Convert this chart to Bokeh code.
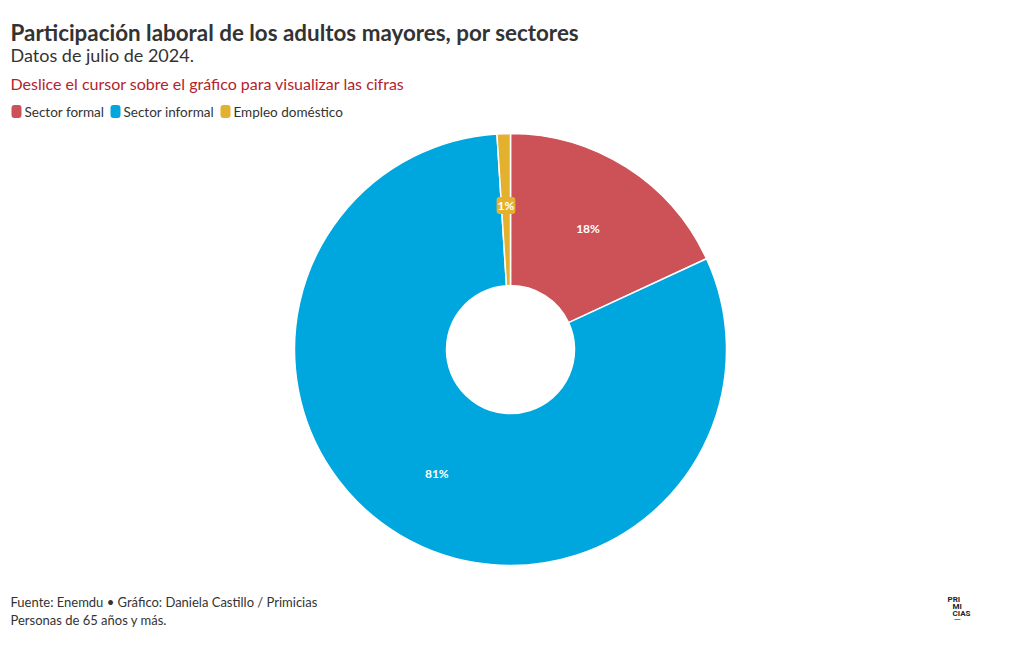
import numpy as np
from bokeh.plotting import figure
from bokeh.models import Range1d, ColumnDataSource
from bokeh.core.properties import value
from bokeh.embed import file_html
from bokeh.resources import INLINE

# ---- data ----
sectors = ["Sector formal", "Sector informal", "Empleo doméstico"]
shares = [18.1, 80.9, 1.0]
colors = ["#cd5257", "#00a6de", "#e4b12f"]

title = "Participación laboral de los adultos mayores, por sectores"
subtitle = "Datos de julio de 2024."
hint = "Deslice el cursor sobre el gráfico para visualizar las cifras"
source_note = "Fuente: Enemdu • Gráfico: Daniela Castillo / Primicias"
note2 = "Personas de 65 años y más."

W, H = 1004, 634
FONT = "Lato"

def X(rx):
    return rx

def Y(ry):
    return H - ry

p = figure(width=W, height=H, output_backend="svg", toolbar_location=None,
           x_range=Range1d(0, W), y_range=Range1d(0, H),
           x_axis_type=None, y_axis_type=None, min_border=0)
p.grid.visible = False
p.outline_line_color = None
p.background_fill_color = "white"
p.border_fill_color = "white"

# ---- donut ----
vals = np.array(shares, dtype=float)
frac = vals / vals.sum()
cum = np.concatenate([[0], np.cumsum(frac)])
start = np.pi / 2 - cum[:-1] * 2 * np.pi
end = np.pi / 2 - cum[1:] * 2 * np.pi
mid = (start + end) / 2
cx, cy = X(510), Y(349)
r_out, r_in, r_lab = 216, 64, 144
src = ColumnDataSource(dict(start=start, end=end, color=colors, name=sectors,
                            lx=cx + r_lab * np.cos(mid), ly=cy + r_lab * np.sin(mid),
                            lab=[f"{round(v)}%" for v in shares]))
p.annular_wedge(x=cx, y=cy, inner_radius=r_in, outer_radius=r_out,
                start_angle="start", end_angle="end", direction="clock",
                fill_color="color", line_color="white", line_width=1.5, source=src)
p.text(x="lx", y="ly", text="lab", source=src, text_align="center", text_baseline="middle",
       text_color="white", text_font=value(FONT), text_font_style="bold", text_font_size="12px",
       background_fill_color="color", padding=1, border_radius=3)

# ---- titles ----
p.text(x=[X(10)], y=[Y(32)], text=[title], text_font=value(FONT), text_font_style="bold",
       text_font_size="22.4px", text_color="#333333", text_baseline="alphabetic")
p.text(x=[X(10)], y=[Y(54)], text=[subtitle], text_font=value(FONT),
       text_font_size="18px", text_color="#333333", text_baseline="alphabetic")
p.text(x=[X(10)], y=[Y(83)], text=[hint], text_font=value(FONT),
       text_font_size="16px", text_color="#b3232c", text_baseline="alphabetic")

# ---- legend ----
leg_x = [11, 110, 220]
for lx, name, col in zip(leg_x, sectors, colors):
    p.rect(x=[X(lx + 5)], y=[Y(111)], width=10, height=13, fill_color=col, line_color=None,
           border_radius=3)
    p.text(x=[X(lx + 13)], y=[Y(111)], text=[name], text_font=value(FONT),
           text_font_size="13.5px", text_color="#333333", text_baseline="middle")

# ---- footer ----
p.text(x=[X(10)], y=[Y(601)], text=[source_note], text_font=value(FONT),
       text_font_size="13px", text_color="#333333", text_baseline="middle")
p.text(x=[X(10)], y=[Y(619)], text=[note2], text_font=value(FONT),
       text_font_size="13px", text_color="#333333", text_baseline="middle")

# ---- logo ----
p.text(x=[X(947), X(952), X(952)], y=[Y(599), Y(606), Y(613)], text=["PRI", "MI", "CIAS"],
       text_font=value("Roboto"), text_font_style="bold", text_font_size="8px",
       text_color="#222222", text_baseline="middle")
p.segment(x0=[X(954)], y0=[Y(619)], x1=[X(960)], y1=[Y(619)], line_color="#00a6de", line_width=1)

open("out.html", "w").write(file_html(p, INLINE))
